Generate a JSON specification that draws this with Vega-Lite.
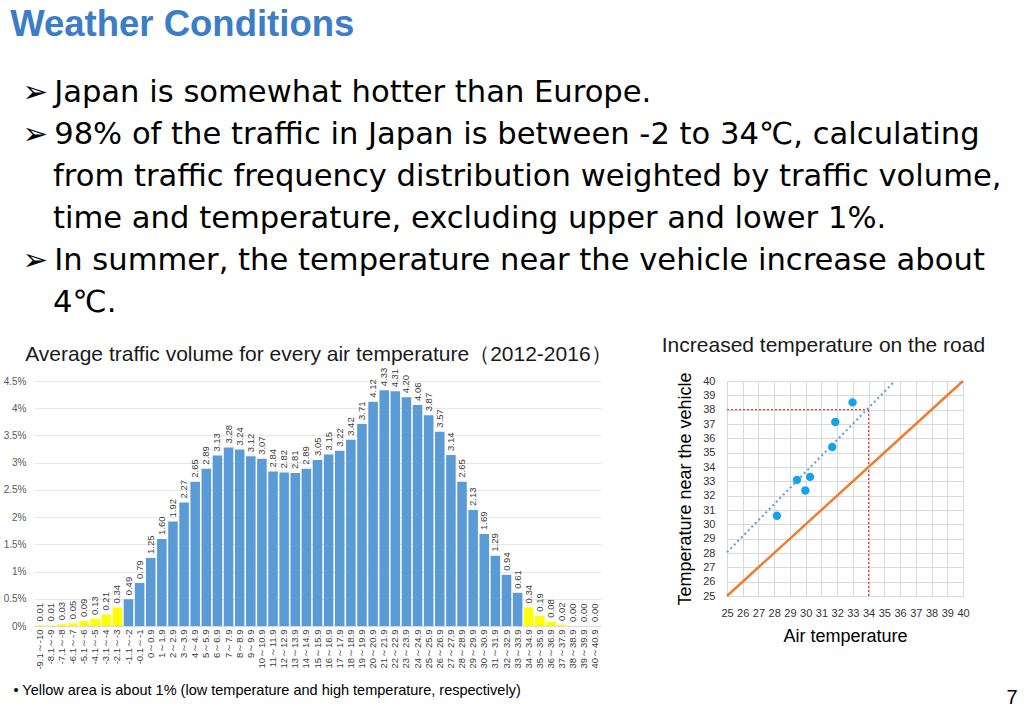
{
  "$schema": "https://vega.github.io/schema/vega-lite/v6.json",
  "padding": {"left": 3, "top": 7, "right": 5, "bottom": 5},
  "background": "white",
  "config": {"font": "Liberation Sans", "view": {"stroke": null}, "concat": {"spacing": 49}},
  "datasets": {
    "traffic": [
      {"range": "-9.1～-10", "pct": 0.01, "area": "lower 1%"},
      {"range": "-8.1～-9", "pct": 0.01, "area": "lower 1%"},
      {"range": "-7.1～-8", "pct": 0.03, "area": "lower 1%"},
      {"range": "-6.1～-7", "pct": 0.05, "area": "lower 1%"},
      {"range": "-5.1～-6", "pct": 0.09, "area": "lower 1%"},
      {"range": "-4.1～-5", "pct": 0.13, "area": "lower 1%"},
      {"range": "-3.1～-4", "pct": 0.21, "area": "lower 1%"},
      {"range": "-2.1～-3", "pct": 0.34, "area": "lower 1%"},
      {"range": "-1.1～-2", "pct": 0.49, "area": "core"},
      {"range": "-0.1～-1", "pct": 0.79, "area": "core"},
      {"range": "0～0.9", "pct": 1.25, "area": "core"},
      {"range": "1～1.9", "pct": 1.60, "area": "core"},
      {"range": "2～2.9", "pct": 1.92, "area": "core"},
      {"range": "3～3.9", "pct": 2.27, "area": "core"},
      {"range": "4～4.9", "pct": 2.65, "area": "core"},
      {"range": "5～5.9", "pct": 2.89, "area": "core"},
      {"range": "6～6.9", "pct": 3.13, "area": "core"},
      {"range": "7～7.9", "pct": 3.28, "area": "core"},
      {"range": "8～8.9", "pct": 3.24, "area": "core"},
      {"range": "9～9.9", "pct": 3.12, "area": "core"},
      {"range": "10～10.9", "pct": 3.07, "area": "core"},
      {"range": "11～11.9", "pct": 2.84, "area": "core"},
      {"range": "12～12.9", "pct": 2.82, "area": "core"},
      {"range": "13～13.9", "pct": 2.81, "area": "core"},
      {"range": "14～14.9", "pct": 2.89, "area": "core"},
      {"range": "15～15.9", "pct": 3.05, "area": "core"},
      {"range": "16～16.9", "pct": 3.15, "area": "core"},
      {"range": "17～17.9", "pct": 3.22, "area": "core"},
      {"range": "18～18.9", "pct": 3.42, "area": "core"},
      {"range": "19～19.9", "pct": 3.71, "area": "core"},
      {"range": "20～20.9", "pct": 4.12, "area": "core"},
      {"range": "21～21.9", "pct": 4.33, "area": "core"},
      {"range": "22～22.9", "pct": 4.31, "area": "core"},
      {"range": "23～23.9", "pct": 4.20, "area": "core"},
      {"range": "24～24.9", "pct": 4.06, "area": "core"},
      {"range": "25～25.9", "pct": 3.87, "area": "core"},
      {"range": "26～26.9", "pct": 3.57, "area": "core"},
      {"range": "27～27.9", "pct": 3.14, "area": "core"},
      {"range": "28～28.9", "pct": 2.65, "area": "core"},
      {"range": "29～29.9", "pct": 2.13, "area": "core"},
      {"range": "30～30.9", "pct": 1.69, "area": "core"},
      {"range": "31～31.9", "pct": 1.29, "area": "core"},
      {"range": "32～32.9", "pct": 0.94, "area": "core"},
      {"range": "33～33.9", "pct": 0.61, "area": "core"},
      {"range": "34～34.9", "pct": 0.34, "area": "upper 1%"},
      {"range": "35～35.9", "pct": 0.19, "area": "upper 1%"},
      {"range": "36～36.9", "pct": 0.08, "area": "upper 1%"},
      {"range": "37～37.9", "pct": 0.02, "area": "upper 1%"},
      {"range": "38～38.9", "pct": 0.00, "area": "upper 1%"},
      {"range": "39～39.9", "pct": 0.00, "area": "upper 1%"},
      {"range": "40～40.9", "pct": 0.00, "area": "upper 1%"}
    ],
    "measured": [
      {"air": 28.17, "vehicle": 30.6},
      {"air": 29.45, "vehicle": 33.1},
      {"air": 29.98, "vehicle": 32.36},
      {"air": 30.28, "vehicle": 33.31},
      {"air": 31.69, "vehicle": 35.4},
      {"air": 31.88, "vehicle": 37.14},
      {"air": 32.98, "vehicle": 38.51}
    ],
    "equal": [
      {"air": 25, "vehicle": 25},
      {"air": 40, "vehicle": 40}
    ],
    "trend": [
      {"air": 25, "vehicle": 28.05},
      {"air": 35.67, "vehicle": 40}
    ],
    "guides": [
      {"air": 25, "vehicle": 38, "air2": 34, "vehicle2": 38},
      {"air": 34, "vehicle": 25, "air2": 34, "vehicle2": 38}
    ]
  },
  "title": {
    "text": "Weather Conditions",
    "subtitle": [
      "\u200b\u2009\u2009➢\u2009Japan is somewhat hotter than Europe.",
      "\u200b\u2009\u2009➢\u200998% of the traffic in Japan is between -2 to 34℃, calculating",
      "\u200b\u2003\u2009\u2009from traffic frequency distribution weighted by traffic volume,",
      "\u200b\u2003\u2009\u2009time and temperature, excluding upper and lower 1%.",
      "\u200b\u2009\u2009➢\u2009In summer, the temperature near the vehicle increase about",
      "\u200b\u2003\u2009\u20094℃."
    ],
    "anchor": "start",
    "dx": 7,
    "font": "Liberation Sans",
    "fontSize": 36.5,
    "fontWeight": "bold",
    "color": "#3B7DC6",
    "subtitleFont": "DejaVu Sans",
    "subtitleFontSize": 30.6,
    "subtitleColor": "#000000",
    "subtitlePadding": 34,
    "subtitleLineHeight": 42,
    "offset": 16
  },
  "vconcat": [
    {
      "title": {"text": "7", "orient": "bottom", "anchor": "end", "fontSize": 20, "fontWeight": "normal", "color": "#000000", "dx": 32, "offset": -9},
      "hconcat": [
        {
          "data": {"name": "traffic"},
          "width": 567,
          "height": 245,
          "title": {"text": "Average traffic volume for every air temperature（2012-2016）", "fontSize": 21, "fontWeight": "normal", "anchor": "start", "dx": 22, "color": "#1a1a1a", "offset": 3},
          "encoding": {
            "x": {
              "field": "range", "type": "nominal", "sort": null,
              "scale": {"paddingInner": 0.14, "paddingOuter": 0.07},
              "axis": {
                "labelAngle": -90, "labelFontSize": 9.5, "labelColor": "#404040", "ticks": false,
                "domain": true, "domainColor": "#d9d9d9", "labelPadding": 3,
                "title": "•   Yellow area is about 1% (low temperature and high temperature, respectively)",
                "titleFont": "Liberation Sans", "titleFontSize": 14.5, "titleFontWeight": "normal",
                "titleAlign": "left", "titleAnchor": "start", "titleX": -21, "titlePadding": 14, "titleColor": "#000000"
              }
            },
            "y": {
              "field": "pct", "type": "quantitative",
              "scale": {"domain": [0, 4.5], "nice": false},
              "axis": {
                "values": [0, 0.5, 1, 1.5, 2, 2.5, 3, 3.5, 4, 4.5],
                "labelExpr": "datum.value + '%'", "title": null, "domain": false, "ticks": false,
                "labelFontSize": 10, "labelColor": "#595959", "gridColor": "#e8e8e8", "labelPadding": 8
              }
            }
          },
          "layer": [
            {
              "mark": {"type": "bar"},
              "encoding": {
                "color": {"field": "area", "type": "nominal", "scale": {"domain": ["lower 1%", "core", "upper 1%"], "range": ["#FFFF00", "#5B9BD5", "#FFFF00"]}, "legend": null}
              }
            },
            {
              "mark": {"type": "text", "angle": 270, "align": "left", "baseline": "middle", "dx": 4, "fontSize": 9.5, "color": "#404040"},
              "encoding": {"text": {"field": "pct", "type": "quantitative", "format": ".2f"}}
            }
          ]
        },
        {
          "width": 236,
          "height": 215,
          "view": {"stroke": "#bfbfbf"},
          "title": {"text": "Increased temperature on the road", "fontSize": 21, "fontWeight": "normal", "anchor": "start", "dx": -15, "color": "#1a1a1a", "offset": 16},
          "encoding": {
            "x": {
              "field": "air", "type": "quantitative",
              "scale": {"domain": [25, 40], "nice": false},
              "axis": {
                "values": [25, 26, 27, 28, 29, 30, 31, 32, 33, 34, 35, 36, 37, 38, 39, 40],
                "title": "Air temperature", "titleFontSize": 18, "titleFontWeight": "normal", "titleColor": "#000000",
                "labelFontSize": 11, "labelColor": "#333333", "ticks": false, "domain": false, "labelFlush": false,
                "gridColor": "#d9d9d9", "labelPadding": 11, "titlePadding": 9, "labelOverlap": false
              }
            },
            "y": {
              "field": "vehicle", "type": "quantitative",
              "scale": {"domain": [25, 40], "nice": false},
              "axis": {
                "values": [25, 26, 27, 28, 29, 30, 31, 32, 33, 34, 35, 36, 37, 38, 39, 40],
                "title": "Temperature near the vehicle", "titleFontSize": 18, "titleFontWeight": "normal", "titleColor": "#000000",
                "labelFontSize": 11, "labelColor": "#333333", "ticks": false, "domain": false, "labelFlush": false,
                "gridColor": "#d9d9d9", "labelPadding": 12, "titlePadding": 8, "labelOverlap": false
              }
            }
          },
          "layer": [
            {
              "data": {"name": "guides"},
              "mark": {"type": "rule", "color": "#FF3030", "strokeDash": [2, 2], "strokeWidth": 1.2},
              "encoding": {"x2": {"field": "air2"}, "y2": {"field": "vehicle2"}}
            },
            {
              "data": {"name": "equal"},
              "mark": {"type": "line", "color": "#ED7D31", "strokeWidth": 2.5},
              "encoding": {}
            },
            {
              "data": {"name": "trend"},
              "mark": {"type": "line", "color": "#5B9BD5", "strokeWidth": 2, "strokeDash": [2, 3]},
              "encoding": {}
            },
            {
              "data": {"name": "measured"},
              "mark": {"type": "point", "filled": true, "size": 70, "color": "#13A3E8", "opacity": 1},
              "encoding": {}
            }
          ]
        }
      ]
    }
  ]
}
